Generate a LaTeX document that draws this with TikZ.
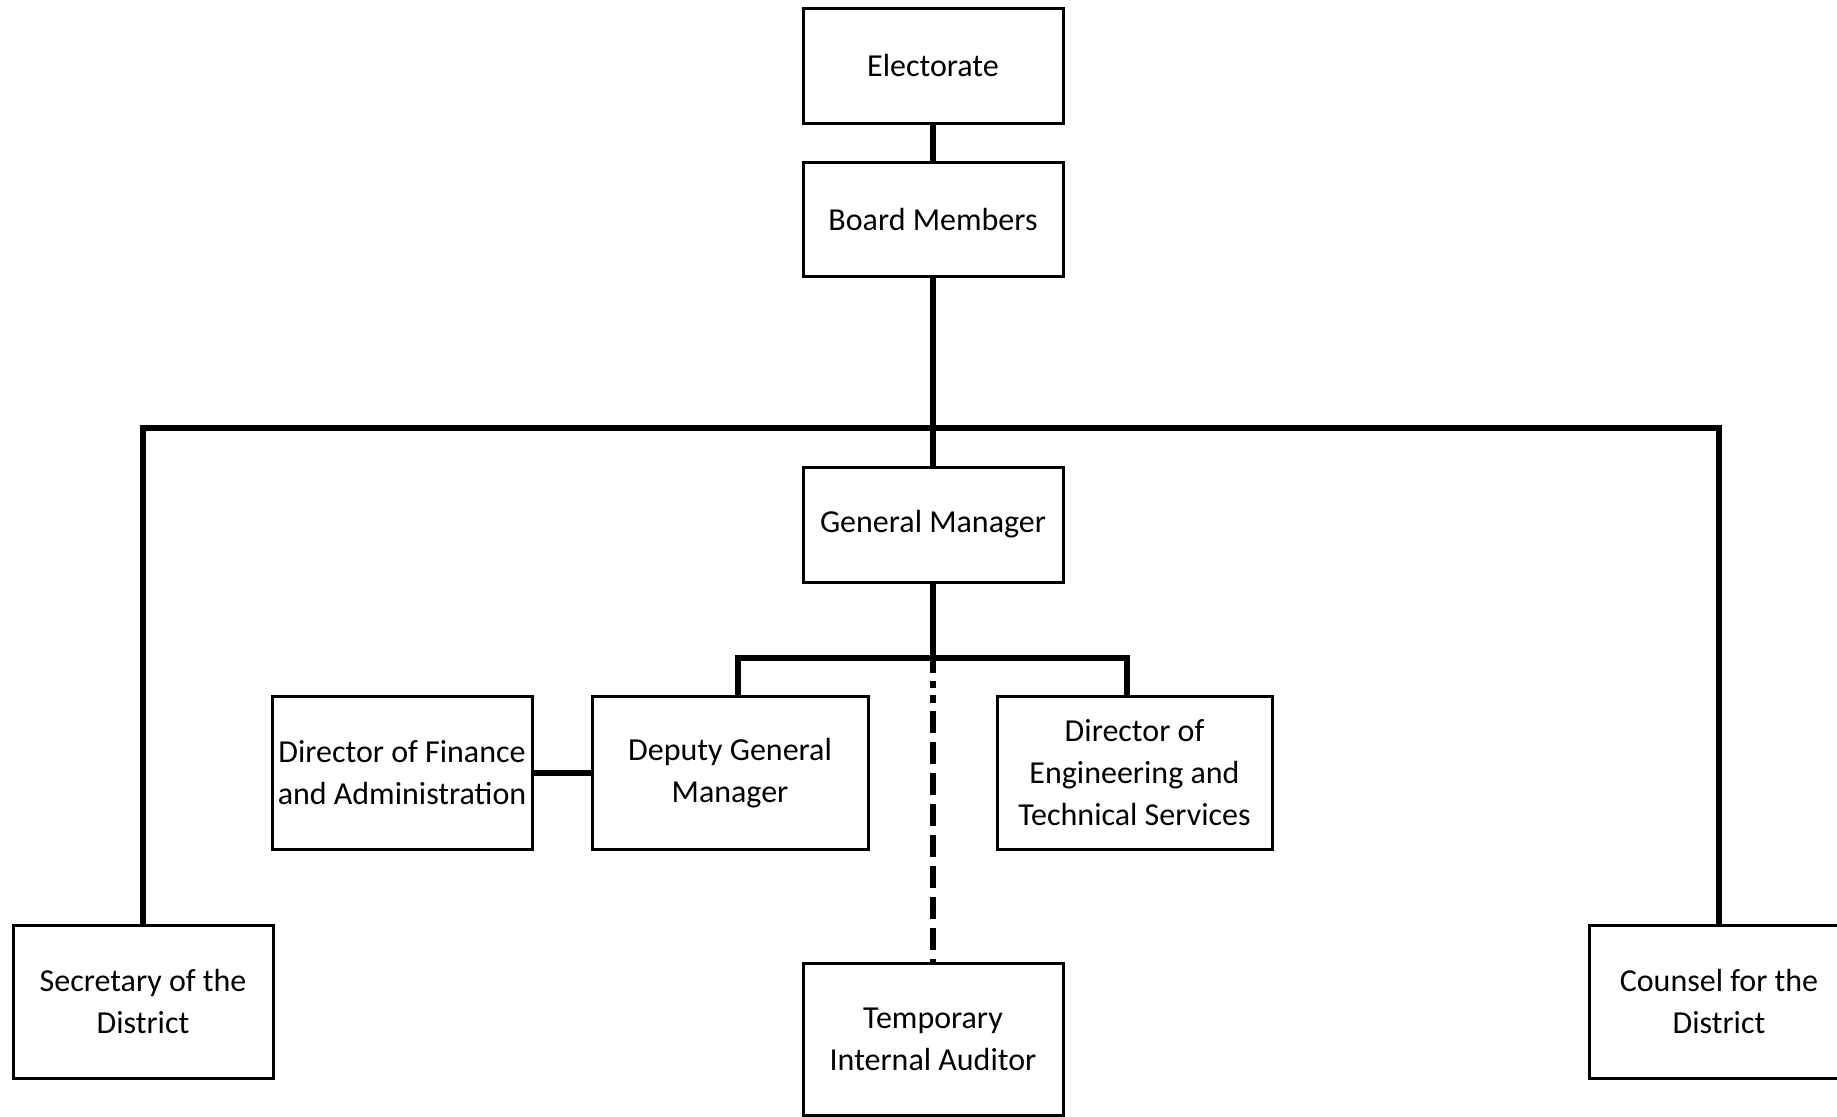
\documentclass[tikz,border=0pt]{standalone}
\usepackage{fontspec}
\setmainfont{Carlito}
\begin{document}
\begin{tikzpicture}[x=0.5pt,y=-0.5pt,
  box/.style={draw, line width=1.5pt, inner sep=0pt, align=center,
    font=\fontsize{16}{21}\selectfont, text=black},
  conn/.style={line width=2.9pt, line join=miter},
  auditline/.style={line width=2.9pt, dash pattern=on 7.5pt off 4pt on 3.5pt off 3.5pt on 4pt off 4pt
    on 11pt off 4.5pt on 11pt off 4.5pt on 11pt off 4.5pt on 11pt off 4.5pt on 11pt off 4.5pt
    on 11pt off 4.5pt on 11pt off 4.5pt on 11pt off 4.5pt on 11pt off 4.5pt on 11pt off 4.5pt}]
\useasboundingbox (0,0) rectangle (1837,1116);
\clip (0,0) rectangle (1837,1116);
\node[box, minimum width=130pt, minimum height=57.5pt] (el) at (933,65.5) {Electorate};
\node[box, minimum width=130pt, minimum height=57pt] (bm) at (933,219) {Board Members};
\node[box, minimum width=130pt, minimum height=57.5pt] (gm) at (933,524.5) {General Manager};
\node[box, minimum width=130pt, minimum height=76.5pt] (fin) at (402,773) {Director of Finance\\and Administration};
\node[box, minimum width=138pt, minimum height=76.5pt] (dep) at (730,773) {Deputy General\\Manager};
\node[box, minimum width=137.5pt, minimum height=76.5pt] (eng) at (1134.5,773) {Director of\\Engineering and\\Technical Services};
\node[box, minimum width=130pt, minimum height=76.5pt] (sec) at (143,1001.5) {Secretary of the\\District};
\node[box, minimum width=130pt, minimum height=76pt] (tmp) at (933,1039) {Temporary\\Internal Auditor};
\node[box, minimum width=130pt, minimum height=76.5pt] (cou) at (1719,1001.5) {Counsel for the\\District};
\coordinate (barL) at (143,428);
\coordinate (barR) at (1719,428);
\coordinate (gbL) at (738,658);
\coordinate (gbR) at (1127,658);
\coordinate (gbM) at (933,658);
\draw[conn] (el.south) -- (bm.north);
\draw[conn] (bm.south) -- (gm.north);
\draw[conn] (sec.north) -- (barL) -- (barR) -- (cou.north);
\draw[conn] (gm.south) -- (gbM);
\draw[conn] (dep.north -| gbL) -- (gbL) -- (gbR) -- (eng.north -| gbR);
\draw[conn] (fin.east) -- (dep.west);
\draw[auditline] (gbM) -- (tmp.north);
\end{tikzpicture}
\end{document}
